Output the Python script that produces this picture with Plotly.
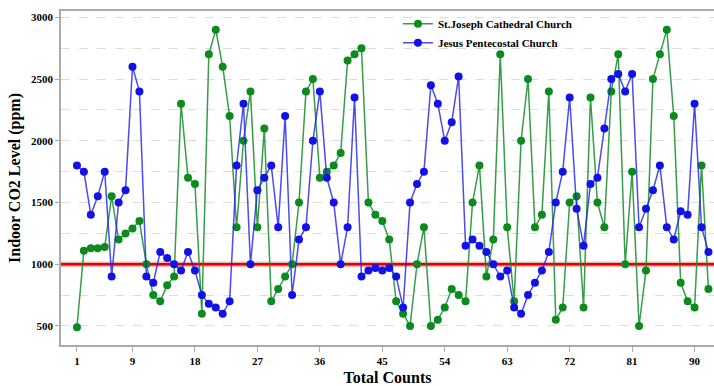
import plotly.graph_objects as go

counts = list(range(1, 93))

st_joseph = [490, 1110, 1130, 1130, 1140, 1550, 1200, 1250, 1290, 1350,
             1000, 750, 700, 830, 900, 2300, 1700, 1650, 600, 2700,
             2900, 2600, 2200, 1300, 2000, 2400, 1300, 2100, 700, 800,
             900, 1000, 1500, 2400, 2500, 1700, 1750, 1800, 1900, 2650,
             2700, 2750, 1500, 1400, 1350, 1200, 700, 600, 500, 1000,
             1300, 500, 550, 650, 800, 750, 700, 1500, 1800, 900,
             1200, 2700, 1300, 700, 2000, 2500, 1300, 1400, 2400, 550,
             650, 1500, 1550, 650, 2350, 1500, 1300, 2400, 2700, 1000,
             1750, 500, 950, 2500, 2700, 2900, 2200, 850, 700, 650,
             1800, 800]

jesus_pentecostal = [1800, 1750, 1400, 1550, 1750, 900, 1500, 1600, 2600, 2400,
                     900, 850, 1100, 1050, 1000, 950, 1100, 950, 750, 680,
                     650, 600, 700, 1800, 2300, 1000, 1600, 1700, 1800, 1300,
                     2200, 750, 1200, 1300, 2000, 2400, 1700, 1500, 1000, 1300,
                     2350, 900, 950, 970, 950, 970, 900, 650, 1500, 1650,
                     1750, 2450, 2300, 2000, 2150, 2520, 1150, 1200, 1150, 1100,
                     1000, 900, 950, 650, 600, 750, 850, 950, 1100, 1500,
                     1750, 2350, 1450, 1150, 1650, 1700, 2100, 2500, 2540, 2400,
                     2540, 1300, 1450, 1600, 1800, 1300, 1200, 1430, 1400, 2300,
                     1300, 1100]

threshold = 1000
x_ticks = [1, 9, 18, 27, 36, 45, 54, 63, 72, 81, 90]
y_ticks = [500, 1000, 1500, 2000, 2500, 3000]
x_range = [-1.3, 92.8]
y_range = [346, 3051]

serif = "Liberation Serif"

fig = go.Figure()
# threshold line (drawn first so the series sit on top of it)
fig.add_trace(go.Scatter(
    x=[x_range[0] - 5, x_range[1] + 5], y=[threshold, threshold], mode="lines",
    line=dict(color="rgba(235,120,120,0.55)", width=5.5),
    showlegend=False, hoverinfo="skip",
))
fig.add_trace(go.Scatter(
    x=[x_range[0] - 5, x_range[1] + 5], y=[threshold, threshold], mode="lines",
    line=dict(color="#dd0000", width=2.5),
    showlegend=False, hoverinfo="skip",
))
fig.add_trace(go.Scatter(
    x=counts, y=st_joseph, mode="lines+markers",
    name="St.Joseph Cathedral Church",
    line=dict(color="rgba(20,140,40,0.85)", width=1.5),
    marker=dict(color="#0b8a1e", size=8),
))
fig.add_trace(go.Scatter(
    x=counts, y=jesus_pentecostal, mode="lines+markers",
    name="Jesus Pentecostal Church",
    line=dict(color="rgba(30,30,235,0.8)", width=1.5),
    marker=dict(color="#1212e6", size=8),
))

fig.update_layout(
    width=714, height=386,
    margin=dict(l=61, r=0, t=11, b=41),
    paper_bgcolor="white", plot_bgcolor="white",
    font=dict(family=serif, size=11, color="black", weight="bold"),
    showlegend=True,
    legend=dict(x=0.516, y=1.005, xanchor="left", yanchor="top",
                bgcolor="rgba(0,0,0,0)", font=dict(size=11, family=serif, weight="bold"),
                tracegroupgap=0, itemwidth=30),
    xaxis=dict(
        range=x_range, tickvals=x_ticks, ticktext=[str(v) for v in x_ticks],
        showgrid=False, zeroline=False,
        showline=True, linecolor="#aaaaaa", linewidth=1.5, mirror=True,
        ticks="outside", ticklen=5, tickcolor="#aaaaaa",
        title=dict(text="Total Counts", font=dict(size=16, family=serif, weight="bold"), standoff=8),
    ),
    yaxis=dict(
        range=y_range, tickvals=y_ticks, ticktext=[str(v) for v in y_ticks],
        showgrid=True, gridcolor="#dddddd", griddash="dash", gridwidth=1,
        zeroline=False,
        showline=True, linecolor="#aaaaaa", linewidth=1.5,
        ticks="outside", ticklen=4, tickcolor="#aaaaaa",
        minor=dict(dtick=250, tick0=0, showgrid=True, gridcolor="#dddddd",
                   griddash="dash", gridwidth=1),
        title=dict(text="Indoor CO2 Level (ppm)", font=dict(size=16, family=serif, weight="bold"), standoff=6),
    ),
)

fig.write_html("out.html")
